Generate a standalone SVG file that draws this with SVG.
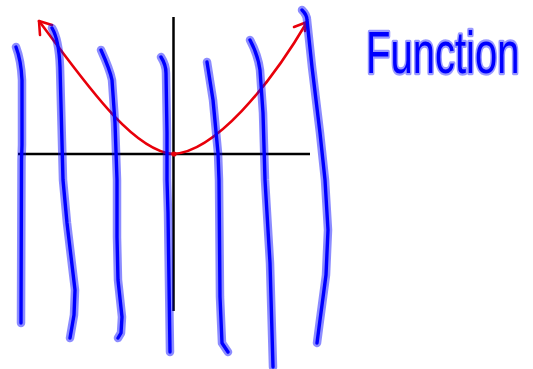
<svg xmlns="http://www.w3.org/2000/svg" xmlns:xlink="http://www.w3.org/1999/xlink" width="533" height="369" viewBox="0 0 533 369">
<style>
.axis{fill:none;stroke:#000;stroke-width:2.5;stroke-linecap:butt}
.red{fill:none;stroke:#e8000a;stroke-width:2.6;stroke-linecap:round;stroke-linejoin:round}
.halo{fill:none;stroke:#0000ff;stroke-opacity:0.45;stroke-width:8.5;stroke-linecap:round;stroke-linejoin:round}
.core{fill:none;stroke:#0000ff;stroke-width:3.4;stroke-linecap:round;stroke-linejoin:round}
.title{font-family:"Liberation Sans",sans-serif;font-size:40px;fill:#0000ff;stroke:#0000ff;stroke-opacity:0.4;stroke-width:3;stroke-linejoin:round;paint-order:stroke}
</style>
<defs>
<path id="s1" d="M16,47 Q21,60 22,80 L22,145 L21.5,160 L21,323"/>
<path id="s2" d="M52,28 Q59,40 60,67 L63,180 L67,223 L75,290 L74,315 L70,338"/>
<path id="s3" d="M101,50 Q110,70 112,80 L115,123 L117,180 L117,237 L118,280 L122,317 L121,333 L118,338"/>
<path id="s4" d="M161,57 Q166,65 166,73 L167,133 L167,180 L168,213 L170,352"/>
<path id="s5" d="M207,62 L213,100 L218,153 L219,180 L220,297 L222,343 L228,352"/>
<path id="s6" d="M250,40 Q258,55 260,70 L263,113 L265,180 L270,263 L273,367"/>
<path id="s7" d="M302,10 Q307,15 307,20 L312,67 L320,133 L325,180 L328,230 L326,275 L320,320 L317,343"/>
</defs>
<g id="axes">
<line class="axis" x1="18" y1="154" x2="310" y2="154"/>
<line class="axis" x1="173.5" y1="17" x2="173.5" y2="311"/>
</g>
<g id="parabola">
<path class="red" d="M39,21 C80,75 130,150 173,154 C215,152 270,85 307,22"/>
<path class="red" d="M52,25 L39,21 L40,35"/>
<path class="red" d="M294,27 L307,22 L305,31"/>
<circle cx="174" cy="154" r="2.6" fill="#e8000a"/>
</g>
<g id="strokes">
<use xlink:href="#s1" class="halo"/><use xlink:href="#s1" class="core"/>
<use xlink:href="#s2" class="halo"/><use xlink:href="#s2" class="core"/>
<use xlink:href="#s3" class="halo"/><use xlink:href="#s3" class="core"/>
<use xlink:href="#s4" class="halo"/><use xlink:href="#s4" class="core"/>
<use xlink:href="#s5" class="halo"/><use xlink:href="#s5" class="core"/>
<use xlink:href="#s6" class="halo"/><use xlink:href="#s6" class="core"/>
<use xlink:href="#s7" class="halo"/><use xlink:href="#s7" class="core"/>
</g>
<g id="label">
<text class="title" transform="translate(366,73) scale(1,1.5)" x="0" y="0">Function</text>
</g>
</svg>
